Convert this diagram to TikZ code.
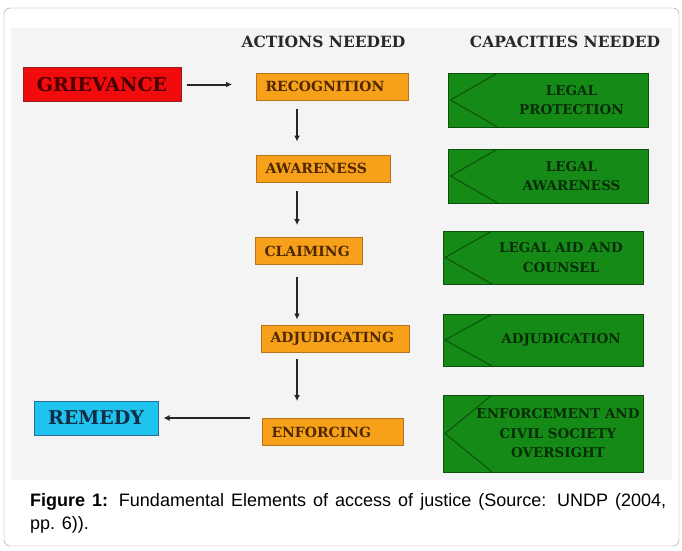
\documentclass[tikz,border=0pt]{standalone}
\usepackage{fontspec}
\setmainfont{Liberation Sans}
\newfontfamily\boxfont{DejaVu Serif}
\usetikzlibrary{arrows.meta,positioning}
\definecolor{cPanel}{RGB}{244,244,244}
\definecolor{cFrame}{RGB}{150,150,150}
\definecolor{cRed}{RGB}{240,12,12}
\definecolor{cRedLn}{RGB}{150,30,30}
\definecolor{cRedTxt}{RGB}{70,0,0}
\definecolor{cOrange}{RGB}{247,160,26}
\definecolor{cOrangeLn}{RGB}{185,115,30}
\definecolor{cOrangeTxt}{RGB}{80,40,0}
\definecolor{cCyan}{RGB}{30,196,238}
\definecolor{cCyanLn}{RGB}{40,110,150}
\definecolor{cCyanTxt}{RGB}{20,45,70}
\definecolor{cGreen}{RGB}{22,138,22}
\definecolor{cGreenLn}{RGB}{12,80,12}
\definecolor{cGreenTxt}{RGB}{8,45,8}
\definecolor{cHead}{RGB}{40,40,40}
\tikzset{
  basebox/.style={rectangle,draw,line width=1pt},
  endbox/.style={basebox,inner sep=0pt,minimum height=34pt,
                 font=\boxfont\bfseries\fontsize{19}{21}\selectfont},
  actbox/.style={basebox,fill=cOrange,draw=cOrangeLn,text=cOrangeTxt,
                 minimum height=27pt,inner xsep=9pt,inner ysep=0pt,
                 align=left,anchor=west,
                 font=\boxfont\bfseries\fontsize{14}{16}\selectfont},
  capbox/.style={basebox,fill=cGreen,draw=cGreenLn,minimum width=200pt,
                 inner sep=0pt,
                 path picture={\draw[cGreenLn,line width=1pt]
                   ([xshift=49pt]path picture bounding box.north west) --
                   ([xshift=2pt]path picture bounding box.west) --
                   ([xshift=49pt]path picture bounding box.south west);}},
  captxt/.style={text=cGreenTxt,align=center,
                 font=\boxfont\bfseries\fontsize{13.5}{19.5}\selectfont},
  headtxt/.style={text=cHead,
                  font=\boxfont\bfseries\fontsize{15.5}{18}\selectfont},
  arr/.style={-{Latex[length=6pt,width=6pt]},line width=2pt,black!85}
}
\begin{document}
\begin{tikzpicture}[x=1pt,y=-1pt]

  \useasboundingbox (0,0) rectangle (682,550);
  \draw[cFrame,fill=white,rounded corners=6pt] (4,8) rectangle (679,546);
  \fill[cPanel] (11,28) rectangle (672,480);

  \node[headtxt] (hact) at (323.5,42) {ACTIONS NEEDED};
  \node[headtxt] (hcap) at (565,42) {CAPACITIES NEEDED};

  \node[endbox,fill=cRed,draw=cRedLn,text=cRedTxt,minimum width=158pt]
      (griev) at (102,84.5) {GRIEVANCE};
  \node[endbox,fill=cCyan,draw=cCyanLn,text=cCyanTxt,minimum width=124pt]
      (remedy) at (96,418) {REMEDY};

  \node[actbox,text width=134pt] (recog) at (256,86.5) {RECOGNITION};
  \node[actbox,text width=116pt] (aware) at (256,168.5) {AWARENESS};
  \node[actbox,text width=89pt] (claim) at (255,251) {CLAIMING};
  \node[actbox,text width=130pt] (adjud) at (261,338.5) {ADJUDICATING};
  \node[actbox,text width=123pt] (enforc) at (262,432) {ENFORCING};

  \node[capbox,minimum height=54pt] (prot) at (548.5,100) {};
  \node[capbox,minimum height=54pt] (laware) at (548.5,176) {};
  \node[capbox,minimum height=53pt] (aid) at (543,257.5) {};
  \node[capbox,minimum height=52pt] (adjn) at (543,340) {};
  \node[capbox,minimum height=77pt] (oversight) at (543,433.5) {};

  \node[captxt] (protT) at ([xshift=23pt]prot.center) {LEGAL\\PROTECTION};
  \node[captxt] (lawareT) at ([xshift=23pt]laware.center) {LEGAL\\AWARENESS};
  \node[captxt] (aidT) at ([xshift=18pt]aid.center) {LEGAL AID AND\\COUNSEL};
  \node[captxt] (adjnT) at ([xshift=18pt]adjn.center) {ADJUDICATION};
  \node[captxt] (oversightT) at ([xshift=15pt]oversight.center)
      {ENFORCEMENT AND\\CIVIL SOCIETY\\OVERSIGHT};

  \coordinate (axis) at (297,0);
  \draw[arr,shorten <=5pt,shorten >=24pt] (griev.east) -- (griev.east -| recog.west);
  \draw[arr,shorten <=8pt,shorten >=13pt] (recog.south -| axis) -- (aware.north -| axis);
  \draw[arr,shorten <=8pt,shorten >=12pt] (aware.south -| axis) -- (claim.north -| axis);
  \draw[arr,shorten <=12pt,shorten >=5pt] (claim.south -| axis) -- (adjud.north -| axis);
  \draw[arr,shorten <=6pt,shorten >=17pt] (adjud.south -| axis) -- (enforc.north -| axis);
  \draw[arr,shorten <=12pt,shorten >=5pt] (enforc.west |- remedy.east) -- (remedy.east);

  \node[anchor=north west,text width=636pt,align=justify,inner sep=0pt,
        font=\fontsize{18}{23}\selectfont] (caption) at (30,493)
      {\textbf{Figure 1:} Fundamental Elements of access of justice (Source: UNDP (2004,\linebreak pp. 6)).};

\end{tikzpicture}
\end{document}
